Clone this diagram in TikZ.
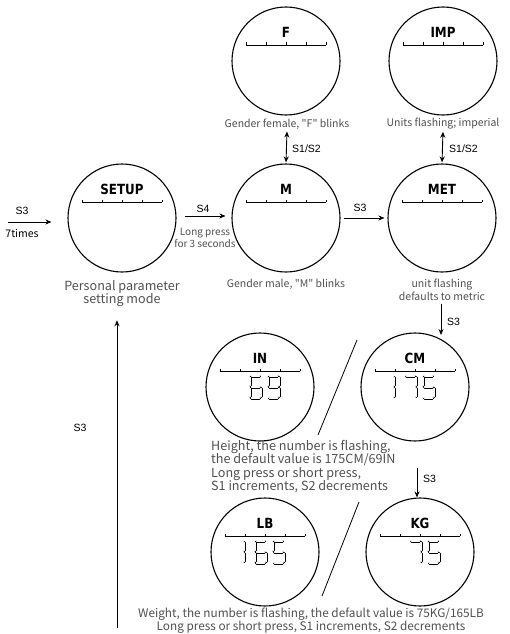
\documentclass[tikz,border=0pt]{standalone}
\usepackage{fontspec}
\setmainfont{Noto Sans CJK SC}[Ligatures=TeXOff]
\newfontfamily\keyfont{Liberation Sans}
\newfontfamily\lcdfont{DejaVu Sans}[FakeStretch=0.85]
\usetikzlibrary{arrows.meta,calc}
\definecolor{notegray}{HTML}{505050}
\tikzset{
  dial/.style={circle,draw,line width=1.1pt,minimum size=108pt,inner sep=0pt},
  lcd/.style={font=\lcdfont\bfseries\fontsize{14}{14}\selectfont,inner sep=0pt},
  note/.style={text=notegray,font=\fontsize{10.5}{13}\selectfont,align=center,inner sep=1pt},
  bignote/.style={note,font=\fontsize{12.6}{13.5}\selectfont},
  key/.style={font=\keyfont\fontsize{10.5}{12}\selectfont,inner sep=1pt},
  flow/.style={-{Stealth[length=6pt,width=5pt]},line width=0.9pt},
  twoway/.style={{Stealth[length=6pt,width=5pt]}-{Stealth[length=6pt,width=5pt]},line width=0.9pt},
  seg/.style={line width=0.9pt,double=white,double distance=1.2pt,line cap=round}
}
\newcommand{\dialscale}[1]{%
  \draw[line width=0.9pt] ([shift={(-40,-16)}]#1.center) -- ([shift={(40,-16)}]#1.center);
  \foreach \t in {-40,-20,0,20,40}{\draw[line width=0.7pt] ([shift={(\t,-16)}]#1.center) -- ++(0,-2.5);}%
}
\newcommand{\segdigit}[3]{\begin{scope}[shift={(#1,#2)}]\foreach \xa/\ya/\xb/\yb in #3 {\draw[seg] (\xa,\ya) -- (\xb,\yb);}\end{scope}}
\def\dgone{11/1.5/11/9.5, 11/12.5/11/20.5}
\def\dgfive{1.5/0/9.5/0, 0/1.5/0/9.5, 1.5/11/9.5/11, 11/12.5/11/20.5, 1.5/22/9.5/22}
\def\dgsix{1.5/0/9.5/0, 0/1.5/0/9.5, 1.5/11/9.5/11, 0/12.5/0/20.5, 11/12.5/11/20.5, 1.5/22/9.5/22}
\def\dgseven{1.5/0/9.5/0, 11/1.5/11/9.5, 11/12.5/11/20.5}
\def\dgnine{1.5/0/9.5/0, 0/1.5/0/9.5, 11/1.5/11/9.5, 1.5/11/9.5/11, 11/12.5/11/20.5, 1.5/22/9.5/22}
\begin{document}
\begin{tikzpicture}[x=1pt,y=-1pt]
  \useasboundingbox (0,0) rectangle (509,634);
  % dials
  \node[dial] (setup) at (122,218) {}; \node[dial] (male) at (286,218) {}; \node[dial] (met) at (442,218) {};
  \node[dial] (fem) at (286,61) {}; \node[dial] (imp) at (443,61) {};
  \node[dial] (inch) at (260,387) {}; \node[dial] (cm) at (415,387) {};
  \node[dial] (lb) at (265,552) {}; \node[dial] (kg) at (420,552) {};
  \foreach \d/\t in {setup/SETUP,male/M,met/MET,fem/F,imp/IMP,inch/IN,cm/CM,lb/LB,kg/KG}{
    \node[lcd] (\d lbl) at ([yshift=29pt]\d.center) {\t};
    \dialscale{\d}
  }
  % digits
  \segdigit{250}{376}{\dgsix} \segdigit{268}{376}{\dgnine}
  \segdigit{383}{376}{\dgone} \segdigit{405}{376}{\dgseven} \segdigit{423}{376}{\dgfive}
  \segdigit{233}{541}{\dgone} \segdigit{255}{541}{\dgsix} \segdigit{273}{541}{\dgfive}
  \segdigit{410}{541}{\dgseven} \segdigit{428}{541}{\dgfive}
  \draw[line width=0.8pt] (357,340) -- (318,435); \draw[line width=0.8pt] (359,502) -- (322,596);
  % notes
  \node[bignote,font=\fontsize{12.6}{13}\selectfont] (setupnote) at (122,294) {Personal parameter\\setting mode};
  \node[note] (femnote) at (287,124) {Gender female, "F" blinks};
  \node[note] (impnote) at (443,124) {Units flashing; imperial};
  \node[note] (malenote) at (286,284) {Gender male, "M" blinks};
  \node[note] (metnote) at (442,290) {unit flashing\\defaults to metric};
  \node[bignote,align=left,anchor=north west] (heightnote) at (210,439) {Height, the number is flashing,\\the default value is 175CM/69IN\\Long press or short press,\\S1 increments, S2 decrements};
  \node[note,font=\fontsize{11.8}{13}\selectfont] (weightnote) at (311,621) {Weight, the number is flashing, the default value is 75KG/165LB\\Long press or short press, S1 increments, S2 decrements};
  \node[note,font=\fontsize{10}{12}\selectfont] (s4note) at (205,238) {Long press\\for 3 seconds};
  % arrows
  \coordinate (start) at (8,222);
  \draw[flow,shorten >=16pt] (start) -- (setup.west |- start);
  \node[key] (s3a) at (22,211) {S3}; \node[note,text=black] (times) at (22,233) {7times};
  \draw[flow,shorten <=8pt,shorten >=6pt] ([yshift=2pt]setup.east) -- ([yshift=2pt]male.west);
  \node[key] (s4) at (203,209) {S4};
  \draw[flow,shorten <=3pt,shorten >=3pt] (male) -- (met);
  \node[key] (s3b) at (360,208) {S3};
  \draw[twoway,shorten <=1pt,shorten >=1pt] (femnote.south) -- (male.north);
  \node[key,anchor=west] (s12a) at (291,149) {S1/S2};
  \draw[twoway,shorten <=1pt,shorten >=1pt] (impnote.south) -- (met.north);
  \node[key,anchor=west] (s12b) at (448,149) {S1/S2};
  \draw[flow,shorten <=2pt] (metnote.south -| 441,0) -- (441,335);
  \node[key,anchor=west] (s3c) at (446,322) {S3};
  \coordinate (down) at (417,468);
  \draw[flow] (down) -- (down |- kg.north);
  \node[key,anchor=west] (s3d) at (422,479) {S3};
  \coordinate (back) at (117,628);
  \draw[flow,shorten >=12pt] (back) -- (back |- setupnote.south);
  \node[key] (s3e) at (80,428) {S3};
\end{tikzpicture}
\end{document}
